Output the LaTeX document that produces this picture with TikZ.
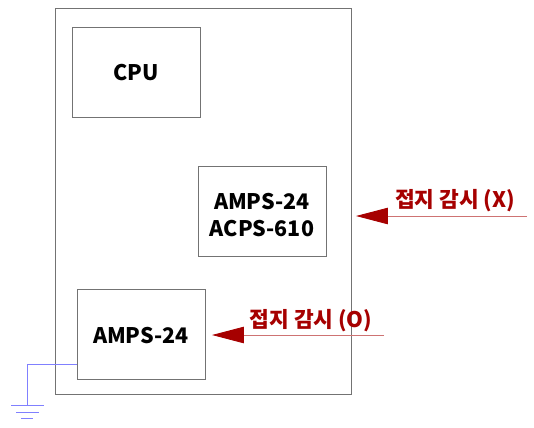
\documentclass[tikz,border=0pt]{standalone}
\usepackage{fontspec}
\setmainfont{Noto Sans CJK KR}
\usepackage{tikz}
\usetikzlibrary{positioning,arrows.meta,calc}
\newcommand{\boxline}[2][-0.6pt]{\raisebox{#1}[8.9pt][0pt]{#2}}

\begin{document}
\begin{tikzpicture}[
  x=0.02cm, y=-0.02cm,
  font=\fontsize{12.2}{15.6}\selectfont\bfseries,
  >={Triangle[length=0.64cm,width=0.33cm,color=red!65!black]},
  modbox/.style={draw=black!55, line width=0.55pt, minimum width=2.56cm, minimum height=1.8cm, inner sep=0pt, align=center, text=black},
  frameline/.style={draw=black!55, line width=0.45pt},
  gndwire/.style={draw=blue!50, line width=0.55pt},
  sensemap/.style={->, draw=red!65!black!55, line width=0.5pt},
  senselabel/.style={text=red!65!black, inner sep=0pt}
]
  \useasboundingbox (0,0) rectangle (534,427);
  \node[frameline, draw, minimum width=5.92cm, minimum height=7.72cm, inner sep=0pt] (mainframe) at (203,201) {};
  \node[modbox] (cpubox) at (136,72) {\boxline{CPU}};
  \node[modbox] (acpsbox) at (262,211) {\boxline[-2.4pt]{AMPS-24}\\\boxline[-2.4pt]{ACPS-610}};
  \node[modbox] (ampsbox) at (141,334.5) {\boxline{AMPS-24}};
  % ground
  \coordinate (wirestart) at (77,364);
  \coordinate (wirebend) at (27,364);
  \coordinate (gndtop) at (27,405);
  \coordinate (gndleftA) at (11,405);
  \coordinate (gndrightA) at (44,405);
  \coordinate (gndleftB) at (16,412);
  \coordinate (gndrightB) at (39,412);
  \coordinate (gndleftC) at (21,418);
  \coordinate (gndrightC) at (33,418);
  \draw[gndwire] (wirestart) -- (wirebend) -- (gndtop);
  \draw[gndwire] (gndleftA) -- (gndrightA);
  \draw[gndwire] (gndleftB) -- (gndrightB);
  \draw[gndwire] (gndleftC) -- (gndrightC);
  % monitoring arrows
  \coordinate (senseXfrom) at (527,216);
  \coordinate (senseXto) at (356,216);
  \coordinate (senseOfrom) at (384,335);
  \coordinate (senseOto) at (212,335);
  \draw[sensemap] (senseXfrom) -- (senseXto);
  \draw[sensemap] (senseOfrom) -- (senseOto);
  \node[senselabel] (labelX) at (455,201) {접지 감시 (X)};
  \node[senselabel] (labelO) at (311,321) {접지 감시 (O)};
\end{tikzpicture}
\end{document}
